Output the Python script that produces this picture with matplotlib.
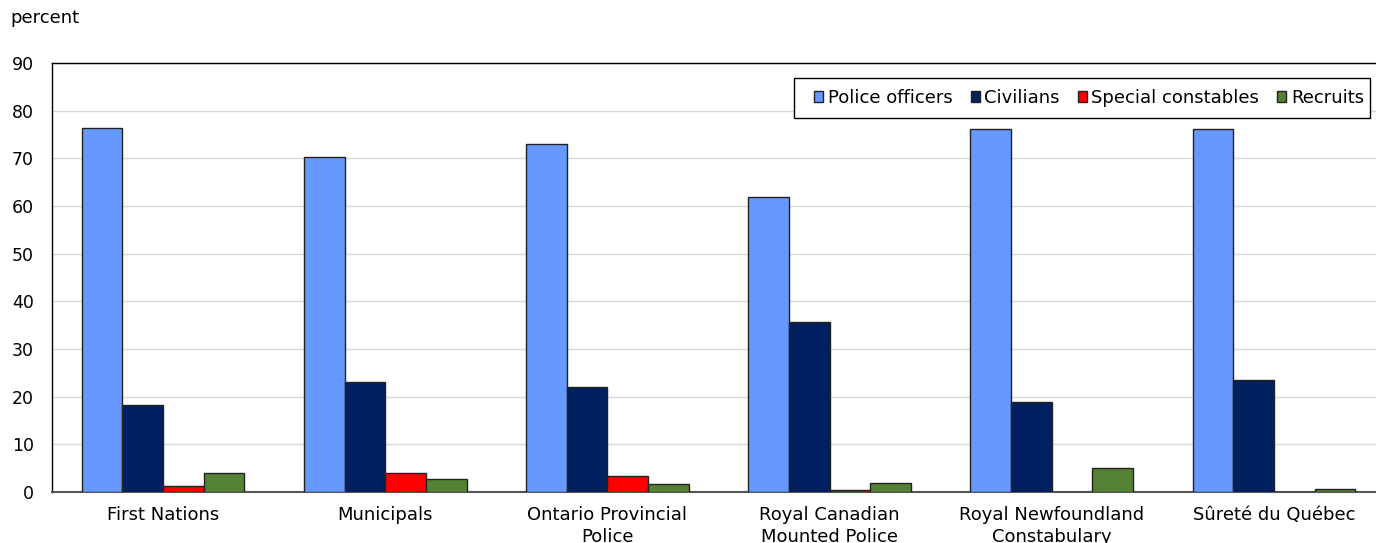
import matplotlib
matplotlib.use("Agg")
import matplotlib.pyplot as plt
from matplotlib.patches import Rectangle
import numpy as np

categories = ["First Nations", "Municipals", "Ontario Provincial\nPolice",
              "Royal Canadian\nMounted Police", "Royal Newfoundland\nConstabulary",
              "Sûreté du Québec"]
series_names = ["Police officers", "Civilians", "Special constables", "Recruits"]
police_officers = [76.4, 70.3, 73.0, 61.9, 76.1, 76.1]
civilians = [18.3, 23.1, 22.0, 35.7, 18.9, 23.5]
special_constables = [1.3, 4.0, 3.4, 0.4, 0.0, 0.0]
recruits = [4.0, 2.7, 1.7, 1.9, 5.0, 0.6]
yticks = [0, 10, 20, 30, 40, 50, 60, 70, 80, 90]

colors = ["#6699FF", "#002060", "#FF0000", "#548235"]

plt.rcParams['font.family'] = ['DejaVu Sans']
W, H = 1376, 543
fig = plt.figure(figsize=(W / 100, H / 100), dpi=100)
ax = fig.add_axes([52/W, 1 - 492/H, (1385 - 52)/W, (492 - 63)/H])

x = np.arange(len(categories))
w = 0.183
all_series = [police_officers, civilians, special_constables, recruits]
for i, (vals, name, c) in enumerate(zip(all_series, series_names, colors)):
    ax.bar(x + (i - 1.5) * w, vals, width=w, color=c, edgecolor="#222222",
           linewidth=1.0, label=name, zorder=3)

ax.set_xlim(-0.5, len(categories) - 0.5)
ax.set_ylim(0, 90)
ax.set_yticks(yticks)
ax.set_yticklabels([str(v) for v in yticks], fontsize=12.5)
ax.set_xticks(x)
ax.set_xticklabels(categories, fontsize=13, linespacing=1.32)
ax.tick_params(axis="both", length=0)
ax.tick_params(axis="x", pad=10)
ax.tick_params(axis="y", pad=13)
ax.grid(axis="y", color="#D9D9D9", linewidth=1, zorder=0)
for s in ["left", "top", "right"]:
    ax.spines[s].set_color("#000000")
    ax.spines[s].set_linewidth(1)
ax.spines["bottom"].set_color("#555555")
ax.spines["bottom"].set_linewidth(1.5)

fig.text(10/W, 1 - 18/H, "percent", fontsize=13, va="center", ha="left")

# legend box
box = Rectangle((794/W, 1 - 118/H), (1370 - 794)/W, 40/H, transform=fig.transFigure,
                facecolor="white", edgecolor="black", linewidth=1, zorder=1)
fig.patches.append(box)

handles, labels = ax.get_legend_handles_labels()
leg = fig.legend(handles, labels, loc="center right",
                 bbox_to_anchor=(1364/W, 1 - 98/H),
                 ncol=4, fontsize=13, frameon=False,
                 handlelength=0.5, handleheight=0.5,
                 handletextpad=0.25, columnspacing=1.0, borderpad=0,
                 borderaxespad=0)
leg.set_zorder(2)

fig.savefig("out.png", dpi=100)
